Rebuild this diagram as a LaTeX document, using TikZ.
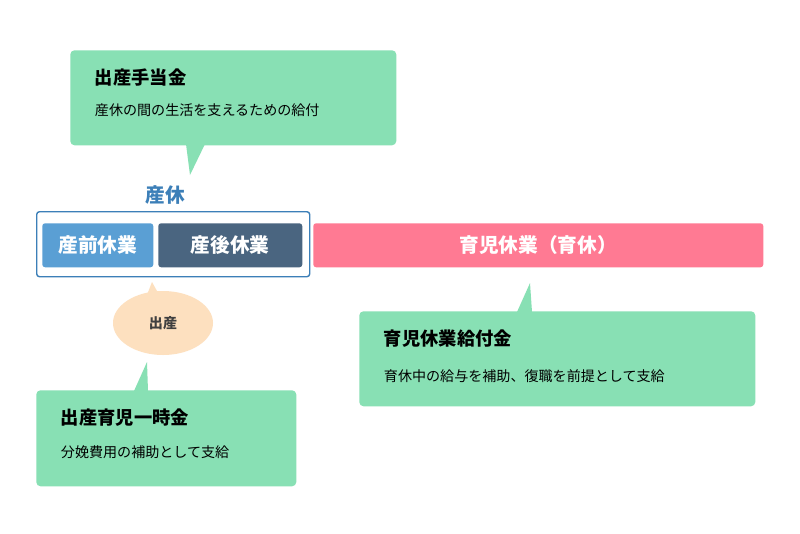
\documentclass[tikz,border=0pt]{standalone}
\usepackage{fontspec}
\setmainfont{Noto Sans CJK JP}
\usetikzlibrary{positioning,shapes.geometric}
\definecolor{callgreen}{HTML}{88E0B4}
\definecolor{sankyublue}{HTML}{5A9FD4}
\definecolor{sangodark}{HTML}{4A6580}
\definecolor{ikupink}{HTML}{FF7A93}
\definecolor{birthpeach}{HTML}{FDE0BF}
\definecolor{framblue}{HTML}{3C7FB8}
\tikzset{
  callbox/.style={fill=callgreen,rounded corners=3pt,anchor=north west,inner sep=0pt},
  periodbox/.style={rounded corners=2pt,anchor=north west,inner sep=0pt,text=white,font=\fontsize{14}{16}\selectfont\bfseries},
  calltitle/.style={anchor=west,font=\fontsize{13}{15}\selectfont\bfseries},
  calltext/.style={anchor=west,font=\fontsize{10}{12}\selectfont},
}
\begin{document}
\begin{tikzpicture}[x=0.025cm,y=-0.025cm]
  \useasboundingbox[fill=white] (0,0) rectangle (800,533);

  % top callout
  \node[callbox,minimum width=326*0.025cm,minimum height=95*0.025cm] (teate) at (70,50) {};
  \fill[callgreen] (186,144) -- (205,144) -- (190,175) -- cycle;
  \node[calltitle] (teatet) at (90,78) {出産手当金};
  \node[calltext] (teatex) at (90,110) {産休の間の生活を支えるための給付};

  % maternity leave frame
  \node[text=framblue,font=\fontsize{14}{16}\selectfont\bfseries] (sankyu) at (165,195) {産休};
  \node[draw=framblue,line width=1pt,rounded corners=2pt,anchor=north west,minimum width=273*0.025cm,minimum height=65*0.025cm] (frame) at (36,211) {};
  \node[periodbox,fill=sankyublue,minimum width=111*0.025cm,minimum height=44*0.025cm] (sanzen) at (42,223) {};
  \node (sanzent) at (sanzen.center) [text=white,font=\fontsize{14}{16}\selectfont\bfseries] {産前休業};
  \node[periodbox,fill=sangodark,minimum width=144*0.025cm,minimum height=44*0.025cm] (sango) at (158,223) {};
  \node (sangot) at (sango.center) [text=white,font=\fontsize{14}{16}\selectfont\bfseries] {産後休業};
  \node[periodbox,fill=ikupink,minimum width=450*0.025cm,minimum height=44*0.025cm] (ikukyu) at (313,223) {};
  \node (ikukyut) at (ikukyu.center) [text=white,font=\fontsize{14}{16}\selectfont\bfseries] {育児休業（育休）};

  % birth
  \fill[birthpeach] (145,300) -- (152,282) -- (162,300) -- cycle;
  \node[ellipse,fill=birthpeach,minimum width=100*0.025cm,minimum height=64*0.025cm,font=\fontsize{10}{12}\selectfont\bfseries,text=black!75] (shussan) at (163,323) {出産};

  % lump-sum callout
  \node[callbox,minimum width=260*0.025cm,minimum height=96*0.025cm] (ichiji) at (36,390) {};
  \fill[callgreen] (134,391) -- (147,362) -- (148,391) -- cycle;
  \node[calltitle] (ichijit) at (56,418) {出産育児一時金};
  \node[calltext] (ichijix) at (56,452) {分娩費用の補助として支給};

  % childcare benefit callout
  \node[callbox,minimum width=396*0.025cm,minimum height=95*0.025cm] (kyufu) at (359,311) {};
  \fill[callgreen] (517,312) -- (530,283) -- (532,312) -- cycle;
  \node[calltitle] (kyufut) at (379,339) {育児休業給付金};
  \node[calltext] (kyufux) at (379,376) {育休中の給与を補助、復職を前提として支給};
\end{tikzpicture}
\end{document}
